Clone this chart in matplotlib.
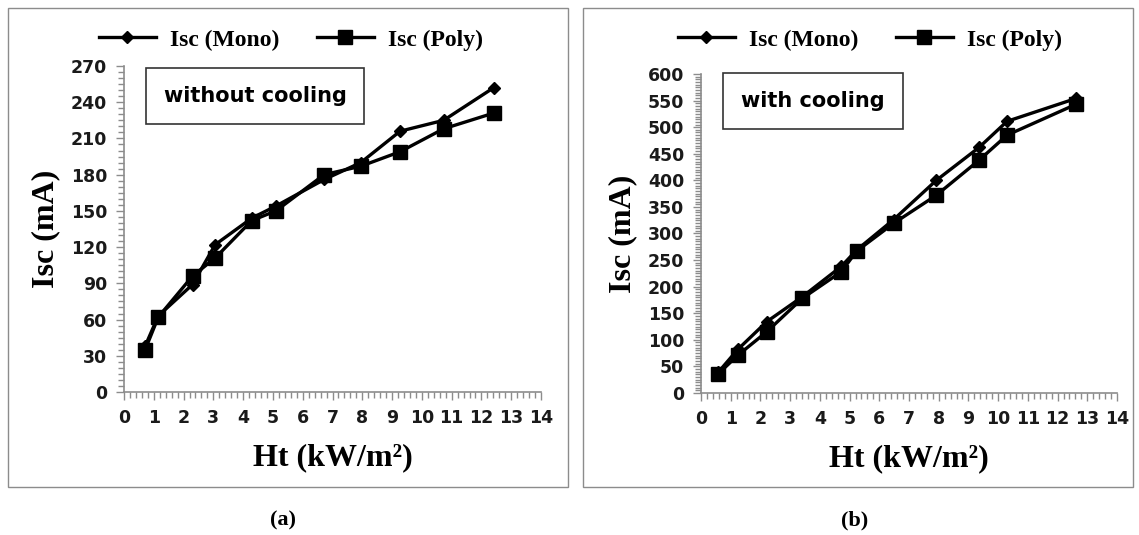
import matplotlib.pyplot as plt
from matplotlib.patches import Rectangle
from matplotlib.ticker import MultipleLocator

# Panel (a): without cooling
ht_a = [0.71, 1.15, 2.30, 3.06, 4.29, 5.10, 6.72, 7.95, 9.27, 10.73, 12.41]
mono_a = [38, 63, 89, 122, 144, 154, 176, 190, 216, 225, 252]
poly_a = [35, 62, 96, 111, 142, 150, 180, 187, 199, 218, 231]

# Panel (b): with cooling
ht_b = [0.58, 1.24, 2.21, 3.41, 4.72, 5.24, 6.48, 7.92, 9.36, 10.30, 12.62]
mono_b = [39, 82, 134, 181, 238, 269, 326, 400, 462, 511, 554]
poly_b = [36, 71, 115, 178, 228, 267, 319, 372, 438, 485, 543]

serif = 'Liberation Serif'
sans = 'DejaVu Sans'

fig = plt.figure(figsize=(11.39, 5.35), dpi=100)
W, H = 1139, 535


def fx(px):
    return px / W


def fy(py):
    return 1 - py / H


def panel(rect, box, xs, mono, poly, ymax, ystep, yminor, note, note_xy, leg_x, caption, cap_x):
    # outer frame of the panel
    x0, y0, x1, y1 = box
    fig.patches.append(Rectangle((fx(x0), fy(y1)), fx(x1 - x0), (y1 - y0) / H,
                                 transform=fig.transFigure, fill=False,
                                 edgecolor='#8c8c8c', linewidth=1.0))
    ax = fig.add_axes(rect)
    ax.plot(xs, mono, color='black', lw=2.4, marker='D', markersize=6,
            label='Isc (Mono)')
    ax.plot(xs, poly, color='black', lw=2.4, marker='s', markersize=10,
            label='Isc (Poly)')
    ax.set_xlim(0, 14)
    ax.set_ylim(0, ymax)
    ax.xaxis.set_major_locator(MultipleLocator(1))
    ax.xaxis.set_minor_locator(MultipleLocator(0.2))
    ax.yaxis.set_major_locator(MultipleLocator(ystep))
    ax.yaxis.set_minor_locator(MultipleLocator(yminor))
    for s in ['top', 'right']:
        ax.spines[s].set_visible(False)
    for s in ['left', 'bottom']:
        ax.spines[s].set_color('#8c8c8c')
        ax.spines[s].set_linewidth(1.2)
    ax.tick_params(which='both', direction='out', color='#8c8c8c', width=1.0)
    ax.tick_params(which='major', length=6, labelsize=12.5, pad=6)
    ax.tick_params(which='minor', length=4)
    for lab in ax.get_xticklabels() + ax.get_yticklabels():
        lab.set_fontfamily(sans)
        lab.set_fontweight('bold')
        lab.set_color('#1a1a1a')
    ax.set_xlabel('Ht (kW/m²)', fontfamily=serif, fontweight='bold',
                  fontsize=23, labelpad=12)
    ax.set_ylabel('Isc (mA)', fontfamily=serif, fontweight='bold',
                  fontsize=23, labelpad=8)
    ax.text(note_xy[0], note_xy[1], note, transform=fig.transFigure,
            ha='center', va='center', fontfamily=sans, fontweight='bold',
            fontsize=15,
            bbox=dict(boxstyle='square,pad=0.85', facecolor='white',
                      edgecolor='#333333', linewidth=1.2))
    fig.legend(handles=ax.get_lines(), loc='center', ncol=2,
               bbox_to_anchor=(leg_x, fy(40)), frameon=False,
               prop={'family': serif, 'weight': 'bold', 'size': 17},
               handlelength=2.4, columnspacing=1.6, handletextpad=0.6)
    fig.text(cap_x, fy(520), caption, ha='center', va='center',
             fontfamily=serif, fontweight='bold', fontsize=16)
    return ax


panel([fx(124), fy(392), fx(541 - 124), (392 - 66) / H], (8, 8, 568, 487),
      ht_a, mono_a, poly_a, 270, 30, 5, 'without cooling',
      (fx(255), fy(96)), fx(291), '(a)', fx(283))
panel([fx(701), fy(393), fx(1117 - 701), (393 - 74) / H], (583, 8, 1133, 487),
      ht_b, mono_b, poly_b, 600, 50, 5, 'with cooling',
      (fx(813), fy(101)), fx(870), '(b)', fx(855))

fig.savefig('out.png', dpi=100)
